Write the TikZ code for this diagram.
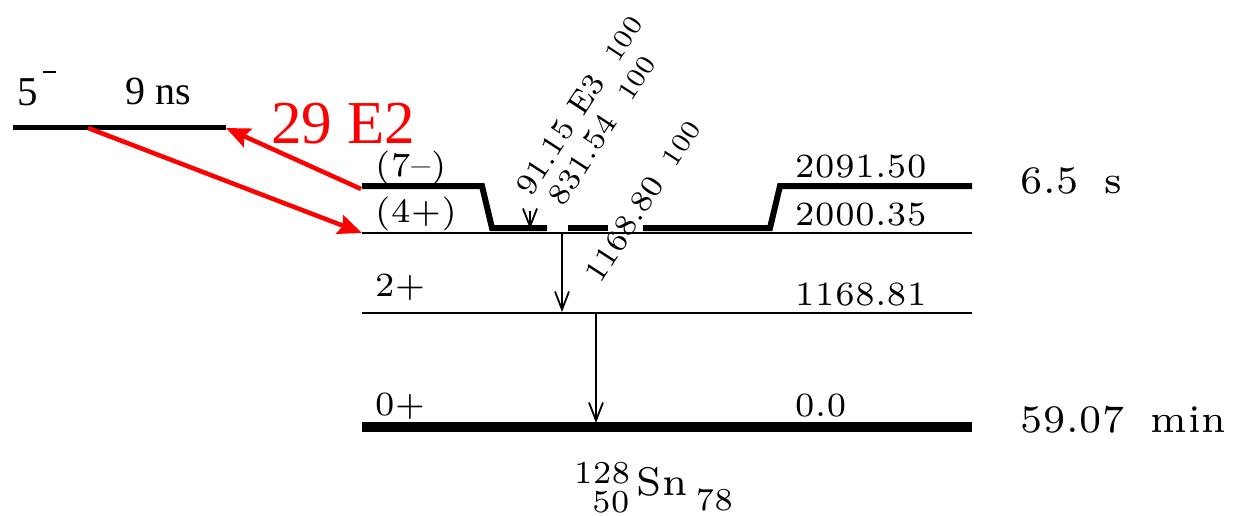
\documentclass[tikz,border=0pt]{standalone}
\usepackage{fontspec}
\usetikzlibrary{arrows.meta}
\IfFontExistsTF{lmroman7-regular.otf}
  {\newfontfamily\ens[LetterSpace=2]{lmroman7-regular.otf}}
  {\newfontfamily\ens[LetterSpace=12]{Latin Modern Roman}}
\newfontfamily\tms{Liberation Serif}
\newcommand\labf{\ens\fontsize{34}{34}\selectfont}
\newcommand\bigf{\ens\fontsize{39}{39}\selectfont}
\newcommand\gamf{\ens\fontsize{31}{31}\selectfont}
\newcommand\intf{\ens\fontsize{27}{27}\selectfont}
\begin{document}
\begin{tikzpicture}[x=1pt,y=-1pt,
  lab/.style={inner sep=0pt,anchor=base west,font=\labf},
  biglab/.style={inner sep=0pt,anchor=base west,font=\bigf},
  rlab/.style={inner sep=0pt,anchor=base west,text=red},
  glab/.style={inner sep=0pt,anchor=base west,font=\gamf,rotate=57},
  gam/.style={line width=1.8pt,-{Straight Barb[length=18pt,width=14pt,line width=1.8pt]}},
  redarr/.style={red,line width=4.5pt,-{Stealth[length=24pt,width=20pt,inset=4pt]}},
  lvthin/.style={line width=2.2pt},
  lvthick/.style={line width=6pt},
]
\useasboundingbox (0,0) rectangle (1247,516);

% coordinates of level ends
\coordinate (L5a) at (13,128);
\coordinate (L5b) at (226,128);
\coordinate (L5m) at (88,128);
\coordinate (L7a) at (362,186);
\coordinate (L4a) at (362,233);
\coordinate (L4b) at (972,233);
\coordinate (L2a) at (362,313);
\coordinate (L2b) at (972,313);
\coordinate (L0a) at (362,427);
\coordinate (L0b) at (972,427);

% left 5- level
\draw[line width=5pt] (L5a) -- (L5b);
\node[rlab,text=black,font=\tms\fontsize{41}{41}\selectfont] (s5) at (17,106) {5\hspace{5pt}\raisebox{33pt}{\rule{13pt}{2.2pt}}};
\node[rlab,text=black,font=\tms\fontsize{40}{40}\selectfont] (t5) at (125,105) {9 ns};

% 2091.50 level (bent)
\draw[lvthick] (L7a) -- (482,186) -- (492,228) -- (547,228);
\draw[lvthick] (568,228) -- (608,228);
\draw[lvthick] (643,228) -- (770,228) -- (780,186) -- (972,186);
% other levels
\draw[lvthin] (L4a) -- (L4b);
\draw[line width=2.5pt] (L2a) -- (L2b);
\draw[line width=10.5pt] (L0a) -- (L0b);

% level labels
\node[lab] (j7) at (375,176) {(7–)};
\node[lab] (j4) at (375,222) {(4+)};
\node[lab] (j2) at (375,296) {2+};
\node[lab] (j0) at (375,415) {0+};
\node[lab] (e7) at (795,177) {2091.50};
\node[lab] (e4) at (795,225) {2000.35};
\node[lab] (e2) at (795,305) {1168.81};
\node[lab] (e0) at (795,416) {0.0};
\node[biglab] (h7) at (1020,193) {6.5\hspace{26pt}s};
\node[biglab] (h0) at (1020,432) {59.07\hspace{26pt}min};

% gamma transitions
\coordinate (g1a) at (530,211);
\coordinate (g1b) at (530,229);
\coordinate (g2a) at (562,233);
\coordinate (g2b) at (562,312);
\coordinate (g3a) at (596,313);
\coordinate (g3b) at (596,423);
\draw[gam] (g1a) -- (g1b);
\draw[gam] (g2a) -- (g2b);
\draw[gam] (g3a) -- (g3b);
\node[glab] (lg1) at (531,198) {\makebox[160pt][l]{91.15 E3}{\intf 100}};
\node[glab] (lg2) at (563,208) {\makebox[125pt][l]{831.54}{\intf 100}};
\node[glab] (lg3) at (600,285) {\makebox[139pt][l]{1168.80}{\intf 100}};

% nuclide
\node[inner sep=0pt,anchor=base west] (nuc) at (574,495)
  {\ens\fontsize{32}{32}\selectfont\raisebox{12pt}{\rlap{128}}\raisebox{-17pt}{\hphantom{1}50}\hspace{7pt}{\fontsize{40}{40}\selectfont Sn}\hspace{8pt}\raisebox{-15pt}{78}};

% red transitions
\coordinate (r7) at (361,189);
\draw[redarr] (r7) -- (L5b);
\draw[redarr] (L5m) -- (L4a);
\node[rlab,font=\tms\fontsize{61}{61}\selectfont] (e2lab) at (271,143) {29 E2};
\end{tikzpicture}
\end{document}
